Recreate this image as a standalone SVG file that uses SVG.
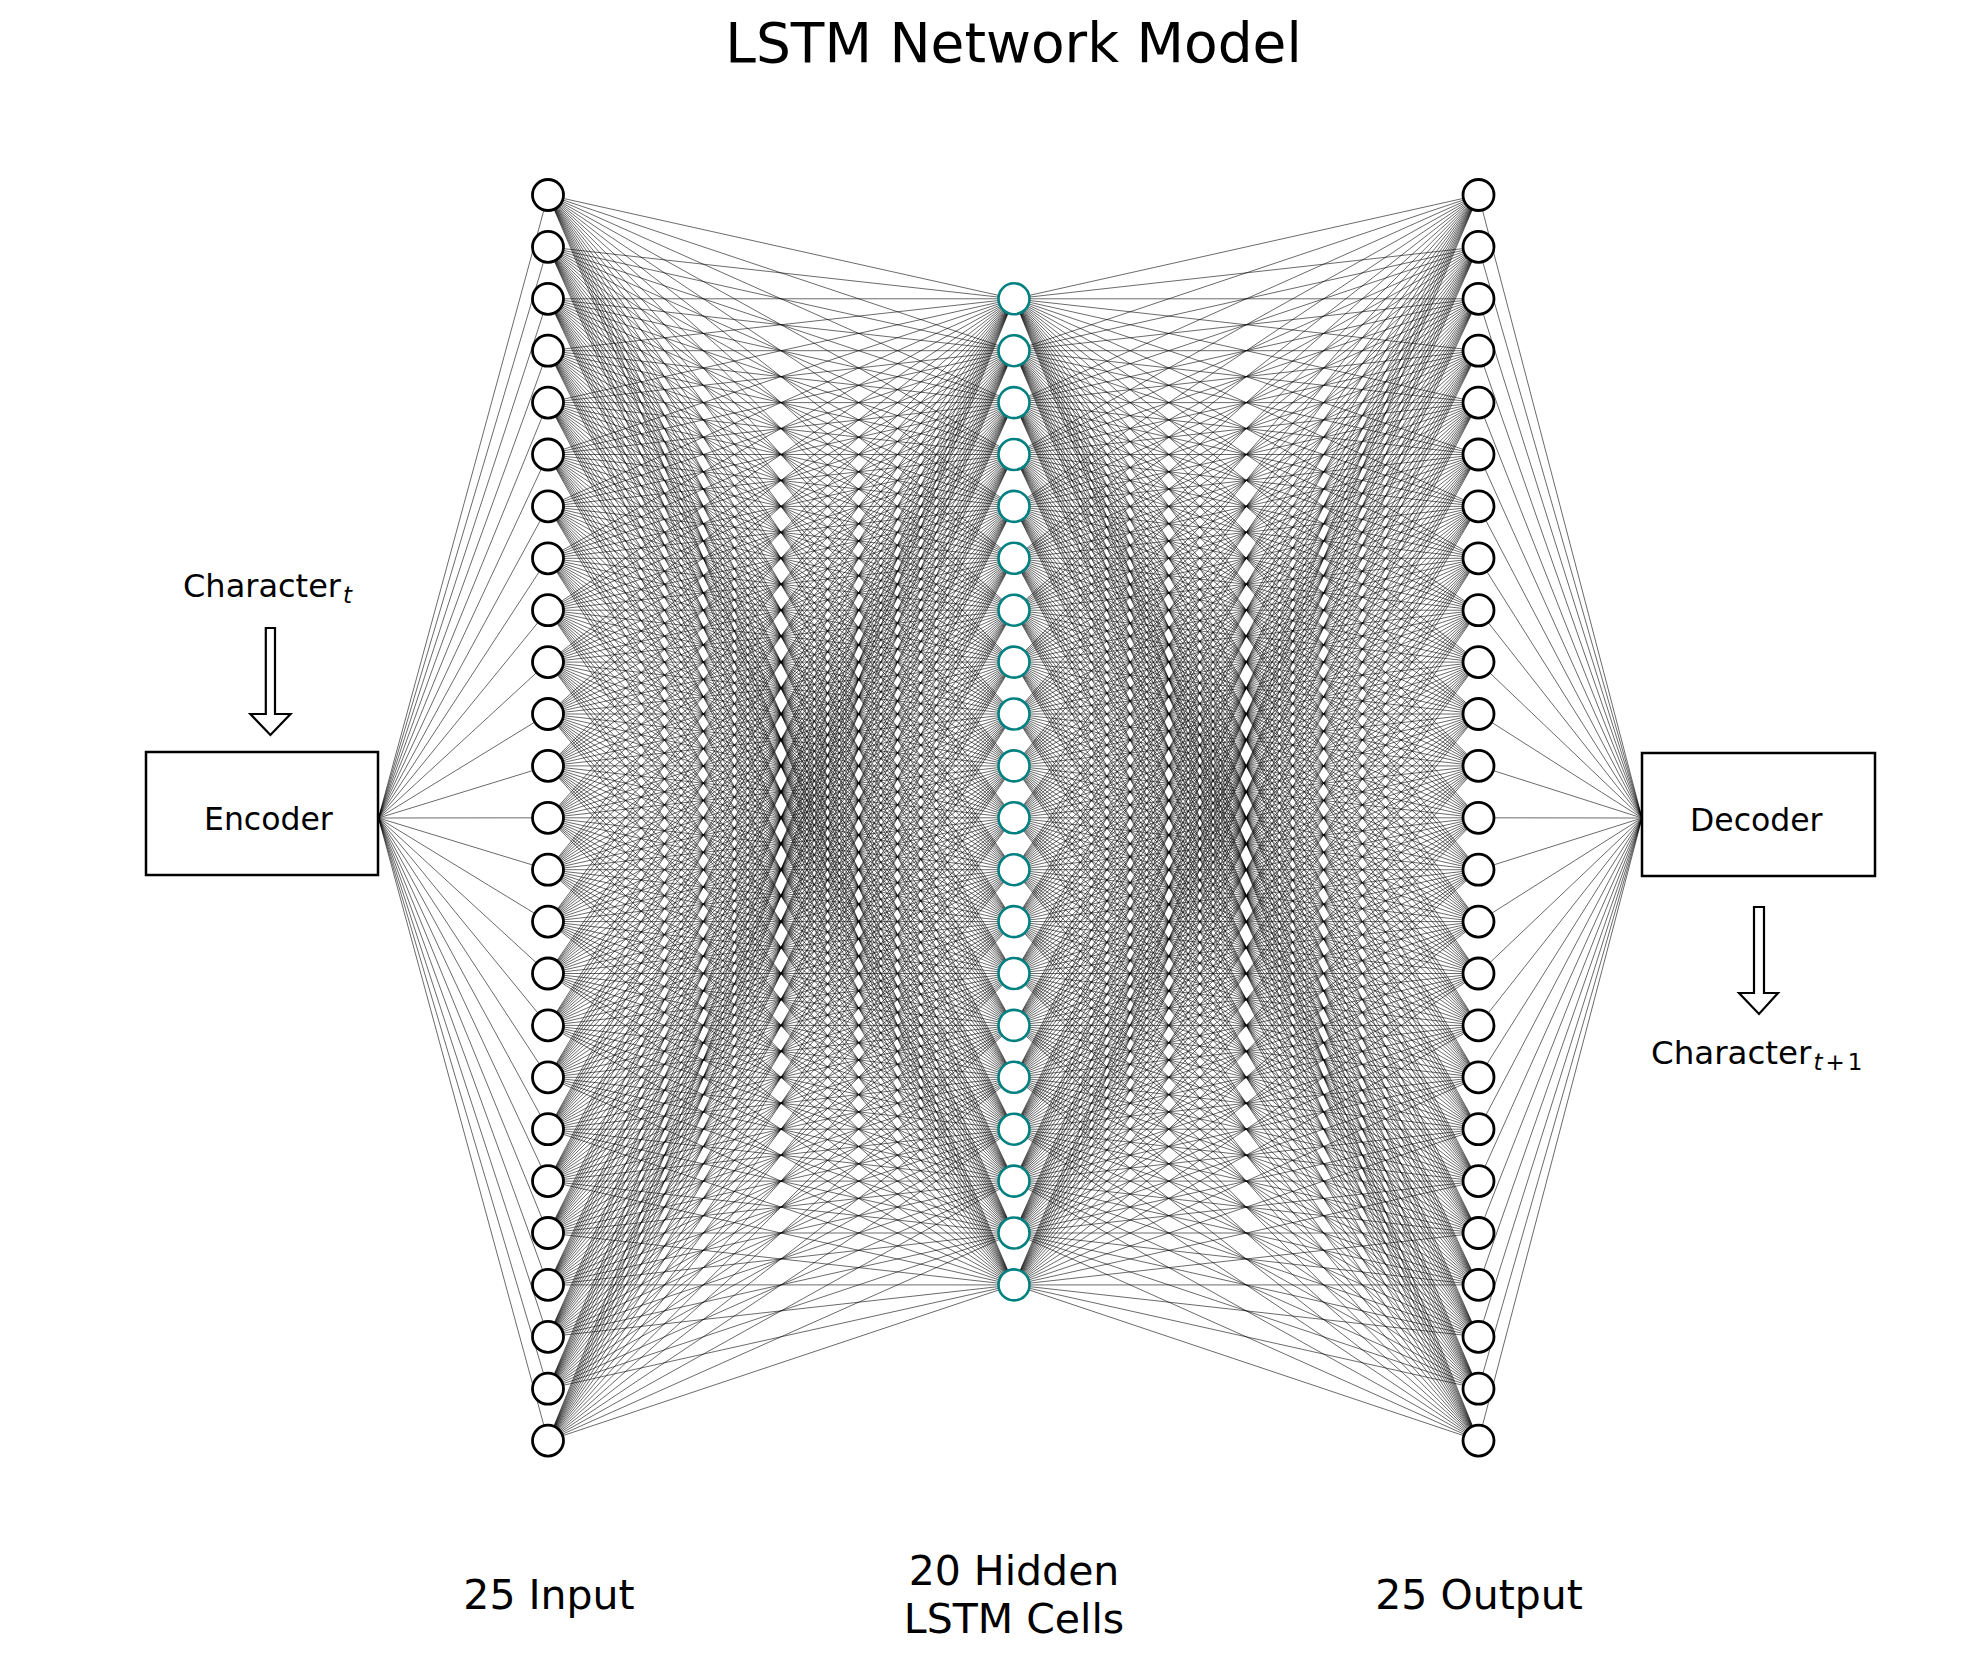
<svg xmlns="http://www.w3.org/2000/svg" xmlns:xlink="http://www.w3.org/1999/xlink" width="1985" height="1664" viewBox="0 0 1985 1664">
<style>
text{font-family:"DejaVu Sans","Liberation Sans",sans-serif;fill:#000}
.in circle,.out circle{fill:#fff;stroke:#000;stroke-width:2.8}
.hid circle{fill:#fff;stroke:#008080;stroke-width:2.6}
.box{fill:#fff;stroke:#000;stroke-width:2.5}
.arrow{fill:#fff;stroke:#000;stroke-width:2.2;stroke-linejoin:miter}
.fan line{stroke:#000;stroke-opacity:.65;stroke-width:.9}
</style>
<defs>
<g id="fanA" stroke="#000" stroke-opacity="0.65" stroke-width="0.9">
<line vector-effect="non-scaling-stroke" x1="548" y1="195" x2="1014" y2="298.8"/>
<line vector-effect="non-scaling-stroke" x1="548" y1="195" x2="1014" y2="350.7"/>
<line vector-effect="non-scaling-stroke" x1="548" y1="195" x2="1014" y2="402.6"/>
<line vector-effect="non-scaling-stroke" x1="548" y1="195" x2="1014" y2="454.5"/>
<line vector-effect="non-scaling-stroke" x1="548" y1="195" x2="1014" y2="506.4"/>
<line vector-effect="non-scaling-stroke" x1="548" y1="195" x2="1014" y2="558.3"/>
<line vector-effect="non-scaling-stroke" x1="548" y1="195" x2="1014" y2="610.2"/>
<line vector-effect="non-scaling-stroke" x1="548" y1="195" x2="1014" y2="662.1"/>
<line vector-effect="non-scaling-stroke" x1="548" y1="195" x2="1014" y2="714"/>
<line vector-effect="non-scaling-stroke" x1="548" y1="195" x2="1014" y2="765.9"/>
<line vector-effect="non-scaling-stroke" x1="548" y1="195" x2="1014" y2="817.8"/>
<line vector-effect="non-scaling-stroke" x1="548" y1="195" x2="1014" y2="869.7"/>
<line vector-effect="non-scaling-stroke" x1="548" y1="195" x2="1014" y2="921.6"/>
<line vector-effect="non-scaling-stroke" x1="548" y1="195" x2="1014" y2="973.5"/>
<line vector-effect="non-scaling-stroke" x1="548" y1="195" x2="1014" y2="1025.4"/>
<line vector-effect="non-scaling-stroke" x1="548" y1="195" x2="1014" y2="1077.3"/>
<line vector-effect="non-scaling-stroke" x1="548" y1="195" x2="1014" y2="1129.2"/>
<line vector-effect="non-scaling-stroke" x1="548" y1="195" x2="1014" y2="1181.1"/>
<line vector-effect="non-scaling-stroke" x1="548" y1="195" x2="1014" y2="1233"/>
<line vector-effect="non-scaling-stroke" x1="548" y1="195" x2="1014" y2="1284.9"/>
</g>
<g id="fanB" stroke="#000" stroke-opacity="0.65" stroke-width="0.9">
<line vector-effect="non-scaling-stroke" x1="1478.5" y1="195" x2="1014" y2="298.8"/>
<line vector-effect="non-scaling-stroke" x1="1478.5" y1="195" x2="1014" y2="350.7"/>
<line vector-effect="non-scaling-stroke" x1="1478.5" y1="195" x2="1014" y2="402.6"/>
<line vector-effect="non-scaling-stroke" x1="1478.5" y1="195" x2="1014" y2="454.5"/>
<line vector-effect="non-scaling-stroke" x1="1478.5" y1="195" x2="1014" y2="506.4"/>
<line vector-effect="non-scaling-stroke" x1="1478.5" y1="195" x2="1014" y2="558.3"/>
<line vector-effect="non-scaling-stroke" x1="1478.5" y1="195" x2="1014" y2="610.2"/>
<line vector-effect="non-scaling-stroke" x1="1478.5" y1="195" x2="1014" y2="662.1"/>
<line vector-effect="non-scaling-stroke" x1="1478.5" y1="195" x2="1014" y2="714"/>
<line vector-effect="non-scaling-stroke" x1="1478.5" y1="195" x2="1014" y2="765.9"/>
<line vector-effect="non-scaling-stroke" x1="1478.5" y1="195" x2="1014" y2="817.8"/>
<line vector-effect="non-scaling-stroke" x1="1478.5" y1="195" x2="1014" y2="869.7"/>
<line vector-effect="non-scaling-stroke" x1="1478.5" y1="195" x2="1014" y2="921.6"/>
<line vector-effect="non-scaling-stroke" x1="1478.5" y1="195" x2="1014" y2="973.5"/>
<line vector-effect="non-scaling-stroke" x1="1478.5" y1="195" x2="1014" y2="1025.4"/>
<line vector-effect="non-scaling-stroke" x1="1478.5" y1="195" x2="1014" y2="1077.3"/>
<line vector-effect="non-scaling-stroke" x1="1478.5" y1="195" x2="1014" y2="1129.2"/>
<line vector-effect="non-scaling-stroke" x1="1478.5" y1="195" x2="1014" y2="1181.1"/>
<line vector-effect="non-scaling-stroke" x1="1478.5" y1="195" x2="1014" y2="1233"/>
<line vector-effect="non-scaling-stroke" x1="1478.5" y1="195" x2="1014" y2="1284.9"/>
</g>
</defs>
<rect width="1985" height="1664" fill="#fff"/>
<text x="1013.5" y="62" font-size="55" text-anchor="middle">LSTM Network Model</text>
<g id="connectors">
<g id="encoder-to-input" class="fan">
<line x1="378.5" y1="818" x2="548" y2="195"/>
<line x1="378.5" y1="818" x2="548" y2="246.9"/>
<line x1="378.5" y1="818" x2="548" y2="298.8"/>
<line x1="378.5" y1="818" x2="548" y2="350.7"/>
<line x1="378.5" y1="818" x2="548" y2="402.6"/>
<line x1="378.5" y1="818" x2="548" y2="454.5"/>
<line x1="378.5" y1="818" x2="548" y2="506.4"/>
<line x1="378.5" y1="818" x2="548" y2="558.3"/>
<line x1="378.5" y1="818" x2="548" y2="610.2"/>
<line x1="378.5" y1="818" x2="548" y2="662.1"/>
<line x1="378.5" y1="818" x2="548" y2="714"/>
<line x1="378.5" y1="818" x2="548" y2="765.9"/>
<line x1="378.5" y1="818" x2="548" y2="817.8"/>
<line x1="378.5" y1="818" x2="548" y2="869.7"/>
<line x1="378.5" y1="818" x2="548" y2="921.6"/>
<line x1="378.5" y1="818" x2="548" y2="973.5"/>
<line x1="378.5" y1="818" x2="548" y2="1025.4"/>
<line x1="378.5" y1="818" x2="548" y2="1077.3"/>
<line x1="378.5" y1="818" x2="548" y2="1129.2"/>
<line x1="378.5" y1="818" x2="548" y2="1181.1"/>
<line x1="378.5" y1="818" x2="548" y2="1233"/>
<line x1="378.5" y1="818" x2="548" y2="1284.9"/>
<line x1="378.5" y1="818" x2="548" y2="1336.8"/>
<line x1="378.5" y1="818" x2="548" y2="1388.7"/>
<line x1="378.5" y1="818" x2="548" y2="1440.6"/>
</g>
<g id="input-to-hidden">
<use xlink:href="#fanA"/>
<use xlink:href="#fanA" transform="matrix(1 -0.11137 0 1 0 112.93)"/>
<use xlink:href="#fanA" transform="matrix(1 -0.22275 0 1 0 225.86)"/>
<use xlink:href="#fanA" transform="matrix(1 -0.33412 0 1 0 338.80)"/>
<use xlink:href="#fanA" transform="matrix(1 -0.44549 0 1 0 451.73)"/>
<use xlink:href="#fanA" transform="matrix(1 -0.55687 0 1 0 564.66)"/>
<use xlink:href="#fanA" transform="matrix(1 -0.66824 0 1 0 677.60)"/>
<use xlink:href="#fanA" transform="matrix(1 -0.77961 0 1 0 790.53)"/>
<use xlink:href="#fanA" transform="matrix(1 -0.89099 0 1 0 903.46)"/>
<use xlink:href="#fanA" transform="matrix(1 -1.00236 0 1 0 1016.39)"/>
<use xlink:href="#fanA" transform="matrix(1 -1.11373 0 1 0 1129.33)"/>
<use xlink:href="#fanA" transform="matrix(1 -1.22511 0 1 0 1242.26)"/>
<use xlink:href="#fanA" transform="matrix(1 -1.33648 0 1 0 1355.19)"/>
<use xlink:href="#fanA" transform="matrix(1 -1.44785 0 1 0 1468.12)"/>
<use xlink:href="#fanA" transform="matrix(1 -1.55923 0 1 0 1581.06)"/>
<use xlink:href="#fanA" transform="matrix(1 -1.67060 0 1 0 1693.99)"/>
<use xlink:href="#fanA" transform="matrix(1 -1.78197 0 1 0 1806.92)"/>
<use xlink:href="#fanA" transform="matrix(1 -1.89335 0 1 0 1919.86)"/>
<use xlink:href="#fanA" transform="matrix(1 -2.00472 0 1 0 2032.79)"/>
<use xlink:href="#fanA" transform="matrix(1 -2.11609 0 1 0 2145.72)"/>
<use xlink:href="#fanA" transform="matrix(1 -2.22747 0 1 0 2258.65)"/>
<use xlink:href="#fanA" transform="matrix(1 -2.33884 0 1 0 2371.59)"/>
<use xlink:href="#fanA" transform="matrix(1 -2.45021 0 1 0 2484.52)"/>
<use xlink:href="#fanA" transform="matrix(1 -2.56159 0 1 0 2597.45)"/>
<use xlink:href="#fanA" transform="matrix(1 -2.67296 0 1 0 2710.38)"/>
</g>
<g id="hidden-to-output">
<use xlink:href="#fanB"/>
<use xlink:href="#fanB" transform="matrix(1 0.11173 0 1 0 -113.30)"/>
<use xlink:href="#fanB" transform="matrix(1 0.22347 0 1 0 -226.59)"/>
<use xlink:href="#fanB" transform="matrix(1 0.33520 0 1 0 -339.89)"/>
<use xlink:href="#fanB" transform="matrix(1 0.44693 0 1 0 -453.19)"/>
<use xlink:href="#fanB" transform="matrix(1 0.55867 0 1 0 -566.49)"/>
<use xlink:href="#fanB" transform="matrix(1 0.67040 0 1 0 -679.78)"/>
<use xlink:href="#fanB" transform="matrix(1 0.78213 0 1 0 -793.08)"/>
<use xlink:href="#fanB" transform="matrix(1 0.89387 0 1 0 -906.38)"/>
<use xlink:href="#fanB" transform="matrix(1 1.00560 0 1 0 -1019.67)"/>
<use xlink:href="#fanB" transform="matrix(1 1.11733 0 1 0 -1132.97)"/>
<use xlink:href="#fanB" transform="matrix(1 1.22907 0 1 0 -1246.27)"/>
<use xlink:href="#fanB" transform="matrix(1 1.34080 0 1 0 -1359.56)"/>
<use xlink:href="#fanB" transform="matrix(1 1.45253 0 1 0 -1472.86)"/>
<use xlink:href="#fanB" transform="matrix(1 1.56426 0 1 0 -1586.16)"/>
<use xlink:href="#fanB" transform="matrix(1 1.67600 0 1 0 -1699.46)"/>
<use xlink:href="#fanB" transform="matrix(1 1.78773 0 1 0 -1812.75)"/>
<use xlink:href="#fanB" transform="matrix(1 1.89946 0 1 0 -1926.05)"/>
<use xlink:href="#fanB" transform="matrix(1 2.01120 0 1 0 -2039.35)"/>
<use xlink:href="#fanB" transform="matrix(1 2.12293 0 1 0 -2152.64)"/>
<use xlink:href="#fanB" transform="matrix(1 2.23466 0 1 0 -2265.94)"/>
<use xlink:href="#fanB" transform="matrix(1 2.34640 0 1 0 -2379.24)"/>
<use xlink:href="#fanB" transform="matrix(1 2.45813 0 1 0 -2492.54)"/>
<use xlink:href="#fanB" transform="matrix(1 2.56986 0 1 0 -2605.83)"/>
<use xlink:href="#fanB" transform="matrix(1 2.68160 0 1 0 -2719.13)"/>
</g>
<g id="output-to-decoder" class="fan">
<line x1="1478.5" y1="195" x2="1642" y2="818"/>
<line x1="1478.5" y1="246.9" x2="1642" y2="818"/>
<line x1="1478.5" y1="298.8" x2="1642" y2="818"/>
<line x1="1478.5" y1="350.7" x2="1642" y2="818"/>
<line x1="1478.5" y1="402.6" x2="1642" y2="818"/>
<line x1="1478.5" y1="454.5" x2="1642" y2="818"/>
<line x1="1478.5" y1="506.4" x2="1642" y2="818"/>
<line x1="1478.5" y1="558.3" x2="1642" y2="818"/>
<line x1="1478.5" y1="610.2" x2="1642" y2="818"/>
<line x1="1478.5" y1="662.1" x2="1642" y2="818"/>
<line x1="1478.5" y1="714" x2="1642" y2="818"/>
<line x1="1478.5" y1="765.9" x2="1642" y2="818"/>
<line x1="1478.5" y1="817.8" x2="1642" y2="818"/>
<line x1="1478.5" y1="869.7" x2="1642" y2="818"/>
<line x1="1478.5" y1="921.6" x2="1642" y2="818"/>
<line x1="1478.5" y1="973.5" x2="1642" y2="818"/>
<line x1="1478.5" y1="1025.4" x2="1642" y2="818"/>
<line x1="1478.5" y1="1077.3" x2="1642" y2="818"/>
<line x1="1478.5" y1="1129.2" x2="1642" y2="818"/>
<line x1="1478.5" y1="1181.1" x2="1642" y2="818"/>
<line x1="1478.5" y1="1233" x2="1642" y2="818"/>
<line x1="1478.5" y1="1284.9" x2="1642" y2="818"/>
<line x1="1478.5" y1="1336.8" x2="1642" y2="818"/>
<line x1="1478.5" y1="1388.7" x2="1642" y2="818"/>
<line x1="1478.5" y1="1440.6" x2="1642" y2="818"/>
</g>
<polygon class="arrow" points="265.8,628 275,628 275,714 290.5,714 270.4,735 250.3,714 265.8,714"/>
<polygon class="arrow" points="1754,907 1764,907 1764,993 1778,993 1759,1014 1739,993 1754,993"/>
</g>
<g id="encoder">
<rect class="box" x="146" y="752" width="232" height="123"/>
<text x="204" y="830" font-size="31.5">Encoder</text>
</g>
<g id="decoder">
<rect class="box" x="1642" y="753" width="233" height="123"/>
<text x="1690" y="831" font-size="31.5">Decoder</text>
</g>
<text x="183" y="597" font-size="32">Character<tspan dx="2" dy="6" font-size="23" font-style="italic">t</tspan></text>
<text x="1651" y="1064" font-size="32.5">Character<tspan dx="2" dy="6" font-size="23" font-style="italic">t</tspan><tspan dx="3" font-size="23">+</tspan><tspan dx="3" font-size="23">1</tspan></text>
<g class="in">
<g id="in-1"><circle cx="548" cy="195" r="15.5"/></g>
<g id="in-2"><circle cx="548" cy="246.9" r="15.5"/></g>
<g id="in-3"><circle cx="548" cy="298.8" r="15.5"/></g>
<g id="in-4"><circle cx="548" cy="350.7" r="15.5"/></g>
<g id="in-5"><circle cx="548" cy="402.6" r="15.5"/></g>
<g id="in-6"><circle cx="548" cy="454.5" r="15.5"/></g>
<g id="in-7"><circle cx="548" cy="506.4" r="15.5"/></g>
<g id="in-8"><circle cx="548" cy="558.3" r="15.5"/></g>
<g id="in-9"><circle cx="548" cy="610.2" r="15.5"/></g>
<g id="in-10"><circle cx="548" cy="662.1" r="15.5"/></g>
<g id="in-11"><circle cx="548" cy="714" r="15.5"/></g>
<g id="in-12"><circle cx="548" cy="765.9" r="15.5"/></g>
<g id="in-13"><circle cx="548" cy="817.8" r="15.5"/></g>
<g id="in-14"><circle cx="548" cy="869.7" r="15.5"/></g>
<g id="in-15"><circle cx="548" cy="921.6" r="15.5"/></g>
<g id="in-16"><circle cx="548" cy="973.5" r="15.5"/></g>
<g id="in-17"><circle cx="548" cy="1025.4" r="15.5"/></g>
<g id="in-18"><circle cx="548" cy="1077.3" r="15.5"/></g>
<g id="in-19"><circle cx="548" cy="1129.2" r="15.5"/></g>
<g id="in-20"><circle cx="548" cy="1181.1" r="15.5"/></g>
<g id="in-21"><circle cx="548" cy="1233" r="15.5"/></g>
<g id="in-22"><circle cx="548" cy="1284.9" r="15.5"/></g>
<g id="in-23"><circle cx="548" cy="1336.8" r="15.5"/></g>
<g id="in-24"><circle cx="548" cy="1388.7" r="15.5"/></g>
<g id="in-25"><circle cx="548" cy="1440.6" r="15.5"/></g>
</g>
<g class="hid">
<g id="hid-1"><circle cx="1014" cy="298.8" r="15.5"/></g>
<g id="hid-2"><circle cx="1014" cy="350.7" r="15.5"/></g>
<g id="hid-3"><circle cx="1014" cy="402.6" r="15.5"/></g>
<g id="hid-4"><circle cx="1014" cy="454.5" r="15.5"/></g>
<g id="hid-5"><circle cx="1014" cy="506.4" r="15.5"/></g>
<g id="hid-6"><circle cx="1014" cy="558.3" r="15.5"/></g>
<g id="hid-7"><circle cx="1014" cy="610.2" r="15.5"/></g>
<g id="hid-8"><circle cx="1014" cy="662.1" r="15.5"/></g>
<g id="hid-9"><circle cx="1014" cy="714" r="15.5"/></g>
<g id="hid-10"><circle cx="1014" cy="765.9" r="15.5"/></g>
<g id="hid-11"><circle cx="1014" cy="817.8" r="15.5"/></g>
<g id="hid-12"><circle cx="1014" cy="869.7" r="15.5"/></g>
<g id="hid-13"><circle cx="1014" cy="921.6" r="15.5"/></g>
<g id="hid-14"><circle cx="1014" cy="973.5" r="15.5"/></g>
<g id="hid-15"><circle cx="1014" cy="1025.4" r="15.5"/></g>
<g id="hid-16"><circle cx="1014" cy="1077.3" r="15.5"/></g>
<g id="hid-17"><circle cx="1014" cy="1129.2" r="15.5"/></g>
<g id="hid-18"><circle cx="1014" cy="1181.1" r="15.5"/></g>
<g id="hid-19"><circle cx="1014" cy="1233" r="15.5"/></g>
<g id="hid-20"><circle cx="1014" cy="1284.9" r="15.5"/></g>
</g>
<g class="out">
<g id="out-1"><circle cx="1478.5" cy="195" r="15.5"/></g>
<g id="out-2"><circle cx="1478.5" cy="246.9" r="15.5"/></g>
<g id="out-3"><circle cx="1478.5" cy="298.8" r="15.5"/></g>
<g id="out-4"><circle cx="1478.5" cy="350.7" r="15.5"/></g>
<g id="out-5"><circle cx="1478.5" cy="402.6" r="15.5"/></g>
<g id="out-6"><circle cx="1478.5" cy="454.5" r="15.5"/></g>
<g id="out-7"><circle cx="1478.5" cy="506.4" r="15.5"/></g>
<g id="out-8"><circle cx="1478.5" cy="558.3" r="15.5"/></g>
<g id="out-9"><circle cx="1478.5" cy="610.2" r="15.5"/></g>
<g id="out-10"><circle cx="1478.5" cy="662.1" r="15.5"/></g>
<g id="out-11"><circle cx="1478.5" cy="714" r="15.5"/></g>
<g id="out-12"><circle cx="1478.5" cy="765.9" r="15.5"/></g>
<g id="out-13"><circle cx="1478.5" cy="817.8" r="15.5"/></g>
<g id="out-14"><circle cx="1478.5" cy="869.7" r="15.5"/></g>
<g id="out-15"><circle cx="1478.5" cy="921.6" r="15.5"/></g>
<g id="out-16"><circle cx="1478.5" cy="973.5" r="15.5"/></g>
<g id="out-17"><circle cx="1478.5" cy="1025.4" r="15.5"/></g>
<g id="out-18"><circle cx="1478.5" cy="1077.3" r="15.5"/></g>
<g id="out-19"><circle cx="1478.5" cy="1129.2" r="15.5"/></g>
<g id="out-20"><circle cx="1478.5" cy="1181.1" r="15.5"/></g>
<g id="out-21"><circle cx="1478.5" cy="1233" r="15.5"/></g>
<g id="out-22"><circle cx="1478.5" cy="1284.9" r="15.5"/></g>
<g id="out-23"><circle cx="1478.5" cy="1336.8" r="15.5"/></g>
<g id="out-24"><circle cx="1478.5" cy="1388.7" r="15.5"/></g>
<g id="out-25"><circle cx="1478.5" cy="1440.6" r="15.5"/></g>
</g>
<g id="labels">
<text x="549" y="1609" font-size="41" text-anchor="middle">25 Input</text>
<text x="1014" y="1585" font-size="41" text-anchor="middle">20 Hidden</text>
<text x="1014" y="1633" font-size="41" text-anchor="middle">LSTM Cells</text>
<text x="1479" y="1609" font-size="41" text-anchor="middle">25 Output</text>
</g>
</svg>
